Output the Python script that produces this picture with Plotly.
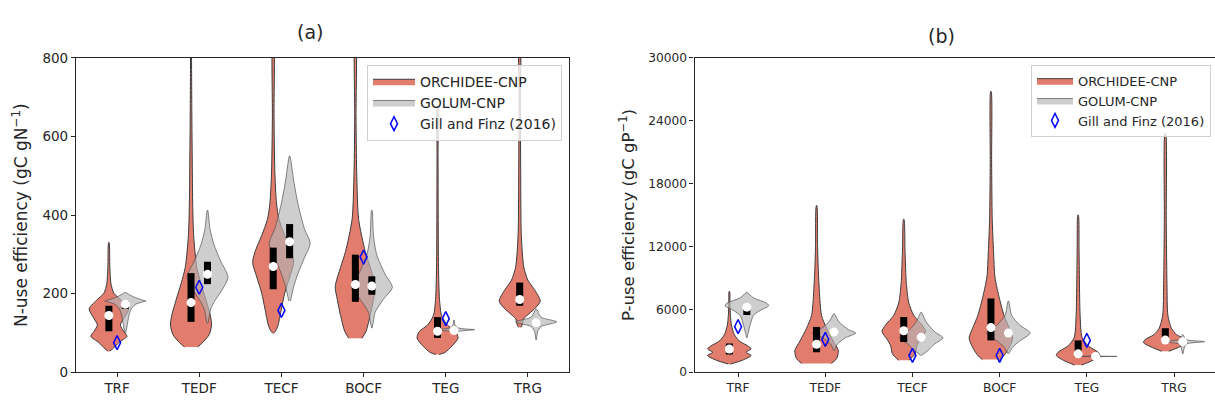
import plotly.graph_objects as go

categories = ["TRF", "TEDF", "TECF", "BOCF", "TEG", "TRG"]
a_yticks = [0, 200, 400, 600, 800]
b_yticks = [0, 6000, 12000, 18000, 24000, 30000]

# ---- Panel (a): N-use efficiency (gC gN-1) ----
# violin outlines: levels (data units) and half-widths (category units)
a_orc_levels = [
    [53, 62, 75, 91, 104, 120, 136, 161, 185, 201, 226, 267, 330],
    [64, 75, 95, 120, 144, 185, 226, 267, 348, 430, 511, 650, 800, 850],
    [99, 105, 120, 161, 201, 242, 279, 307, 348, 389, 430, 511, 650, 850],
    [86, 104, 144, 185, 218, 267, 307, 389, 511, 650, 850],
    [45, 50, 67, 87, 104, 120, 144, 185, 267, 400, 550, 678],
    [114, 120, 136, 161, 181, 210, 234, 267, 348, 511, 700, 850],
]
a_orc_widths = [
    [0.01, 0.06, 0.12, 0.22, 0.18, 0.14, 0.18, 0.24, 0.14, 0.06, 0.025, 0.012, 0.003],
    [0.08, 0.14, 0.22, 0.25, 0.235, 0.18, 0.12, 0.07, 0.032, 0.02, 0.016, 0.01, 0.006, 0.005],
    [0.005, 0.03, 0.06, 0.1, 0.14, 0.2, 0.25, 0.22, 0.14, 0.07, 0.04, 0.02, 0.01, 0.005],
    [0.08, 0.13, 0.18, 0.22, 0.245, 0.18, 0.12, 0.04, 0.016, 0.008, 0.005],
    [0.02, 0.09, 0.18, 0.25, 0.22, 0.12, 0.05, 0.024, 0.012, 0.008, 0.006, 0.003],
    [0.012, 0.03, 0.05, 0.18, 0.25, 0.18, 0.1, 0.05, 0.02, 0.012, 0.008, 0.006],
]
a_gol_levels = [
    [100, 115, 128, 145, 160, 172, 178, 181, 184, 190, 197, 203],
    [124, 128, 161, 185, 210, 242, 283, 324, 365, 412],
    [181, 200, 218, 250, 291, 328, 365, 430, 487, 550],
    [112, 130, 152, 185, 216, 250, 299, 348, 412],
    [95, 98, 104, 108, 112, 120, 132],
    [82, 104, 116, 128, 140, 161],
]
a_gol_widths = [
    [0.003, 0.02, 0.03, 0.045, 0.07, 0.12, 0.2, 0.25, 0.2, 0.12, 0.05, 0.005],
    [0.003, 0.01, 0.04, 0.1, 0.18, 0.25, 0.16, 0.08, 0.03, 0.003],
    [0.01, 0.03, 0.05, 0.1, 0.18, 0.25, 0.18, 0.1, 0.05, 0.003],
    [0.003, 0.02, 0.04, 0.14, 0.25, 0.16, 0.06, 0.02, 0.003],
    [0.003, 0.016, 0.06, 0.25, 0.06, 0.012, 0.003],
    [0.003, 0.02, 0.06, 0.25, 0.06, 0.003],
]
a_orc_q1 = [104, 128, 211, 179, 87, 169]
a_orc_med = [144, 177, 269, 223, 104, 185]
a_orc_q3 = [169, 252, 317, 299, 140, 228]
a_gol_q1 = [161, 224, 290, 197, 103, 121]
a_gol_med = [173, 249, 332, 219, 106, 126]
a_gol_q3 = [181, 281, 377, 244, 109, 130]
a_gill = [75, 216, 157, 293, 136, None]

# ---- Panel (b): P-use efficiency (gC gP-1) ----
b_orc_levels = [
    [765, 1131, 1590, 1896, 2202, 2508, 2966, 3578, 4495, 5413, 6500, 7700],
    [826, 1284, 2049, 2966, 4189, 5413, 6942, 10000, 12000, 15900],
    [1131, 1743, 2508, 3119, 3884, 4495, 5413, 6636, 8470, 11529, 14600],
    [1193, 1590, 2355, 3272, 4189, 5413, 6942, 9083, 11529, 14587, 20000, 26800],
    [673, 1131, 1590, 1896, 2508, 3272, 5413, 11529, 15000],
    [1988, 2355, 2813, 3119, 3578, 4189, 5413, 8470, 14587, 22800],
]
b_orc_widths = [
    [0.01, 0.15, 0.25, 0.19, 0.25, 0.21, 0.115, 0.057, 0.023, 0.012, 0.006, 0.003],
    [0.17, 0.23, 0.25, 0.19, 0.115, 0.057, 0.038, 0.019, 0.012, 0.003],
    [0.06, 0.13, 0.15, 0.19, 0.25, 0.21, 0.115, 0.057, 0.03, 0.015, 0.003],
    [0.1, 0.15, 0.21, 0.25, 0.21, 0.15, 0.1, 0.046, 0.03, 0.015, 0.008, 0.003],
    [0.04, 0.17, 0.25, 0.23, 0.115, 0.046, 0.023, 0.011, 0.003],
    [0.04, 0.15, 0.25, 0.23, 0.13, 0.07, 0.03, 0.019, 0.011, 0.004],
]
b_gol_levels = [
    [3272, 4495, 5413, 5871, 6330, 6575, 7095, 7614],
    [2049, 2660, 3272, 3730, 4036, 4801, 5566],
    [1590, 2049, 2660, 3272, 3884, 4801, 5719],
    [1743, 2355, 2966, 3730, 4495, 5413, 6789],
    [1350, 1450, 1498, 1550, 1650],
    [1743, 2660, 2905, 3119, 3578],
]
b_gol_widths = [
    [0.003, 0.038, 0.076, 0.15, 0.25, 0.23, 0.076, 0.003],
    [0.003, 0.038, 0.13, 0.25, 0.17, 0.057, 0.003],
    [0.003, 0.076, 0.15, 0.25, 0.15, 0.057, 0.003],
    [0.003, 0.046, 0.13, 0.25, 0.13, 0.038, 0.003],
    [0.003, 0.03, 0.245, 0.03, 0.003],
    [0.003, 0.038, 0.25, 0.038, 0.003],
]
b_orc_q1 = [1682, 1896, 2875, 3027, 1590, 3027]
b_orc_med = [2200, 2660, 3945, 4250, 1743, 3058]
b_orc_q3 = [2722, 4312, 5260, 7033, 3027, 4189]
b_gol_q1 = [5450, 3550, 3050, 3450, 1470, 2860]
b_gol_med = [6200, 3822, 3333, 3730, 1500, 2905]
b_gol_q3 = [6350, 4000, 3600, 4000, 1530, 2950]
b_gill = [4342, 3119, 1590, 1590, 3027, None]

ORC_FILL = "#e27c6d"
ORC_EDGE = "#3c3c3c"
GOL_FILL = "rgba(180,180,180,0.66)"
GOL_EDGE = "rgba(70,70,70,0.65)"
DODGE = 0.1

W, H = 1215, 407
fig = go.Figure()


def outline(center, levels, widths):
    xs = [center + w for w in widths] + [center - w for w in reversed(widths)]
    ys = list(levels) + list(reversed(levels))
    return xs, ys


def add_panel(xa, ya, legend, orc_lv, orc_w, gol_lv, gol_w,
              oq1, omed, oq3, gq1, gmed, gq3, gill):
    for lv, wd, off, fill, edge, name in [
        (orc_lv, orc_w, -DODGE, ORC_FILL, ORC_EDGE, "ORCHIDEE-CNP"),
        (gol_lv, gol_w, DODGE, GOL_FILL, GOL_EDGE, "GOLUM-CNP"),
    ]:
        for i in range(len(categories)):
            xs, ys = outline(i + off, lv[i], wd[i])
            fig.add_trace(go.Scatter(
                x=xs, y=ys, mode="lines", fill="toself", fillcolor=fill,
                line=dict(color=edge, width=1, shape="spline", smoothing=0.7),
                name=name, legend=legend, legendgroup=legend + name,
                showlegend=(i == 0), xaxis=xa, yaxis=ya, hoverinfo="skip"))
    for q1, q3, off in [(oq1, oq3, -DODGE), (gq1, gq3, DODGE)]:
        for i in range(len(categories)):
            fig.add_trace(go.Scatter(
                x=[i + off, i + off], y=[q1[i], q3[i]], mode="lines",
                line=dict(color="black", width=7), showlegend=False,
                xaxis=xa, yaxis=ya, hoverinfo="skip"))
    for med, off in [(omed, -DODGE), (gmed, DODGE)]:
        fig.add_trace(go.Scatter(
            x=[i + off for i in range(len(categories))], y=med, mode="markers",
            marker=dict(color="white", size=9, line=dict(width=0)),
            showlegend=False, xaxis=xa, yaxis=ya, hoverinfo="skip"))
    fig.add_trace(go.Scatter(
        x=list(range(len(categories))), y=gill, mode="markers",
        marker=dict(symbol="diamond-tall-open", color="#0000ff", size=10,
                    line=dict(width=1.5, color="#0000ff")),
        name="Gill and Finz (2016)", legend=legend, legendgroup=legend + "gill",
        xaxis=xa, yaxis=ya, hoverinfo="skip"))


add_panel("x", "y", "legend", a_orc_levels, a_orc_widths, a_gol_levels, a_gol_widths,
          a_orc_q1, a_orc_med, a_orc_q3, a_gol_q1, a_gol_med, a_gol_q3, a_gill)
add_panel("x2", "y2", "legend2", b_orc_levels, b_orc_widths, b_gol_levels, b_gol_widths,
          b_orc_q1, b_orc_med, b_orc_q3, b_gol_q1, b_gol_med, b_gol_q3, b_gill)

FONT = "DejaVu Sans"
ax_common = dict(showline=True, linecolor="#262626", linewidth=1.2, ticks="outside",
                 ticklen=4, tickcolor="#262626", showgrid=False, zeroline=False)

y_top, y_bot = 52, 379
ydom = [(H - y_bot) / H, (H - y_top) / H]

legend_common = dict(yanchor="top", y=(H - 59) / H, xanchor="right",
                     bgcolor="rgba(255,255,255,0.8)", bordercolor="#d0d0d0", borderwidth=1,
                     traceorder="grouped", tracegroupgap=0)

fig.update_layout(
    width=W, height=H, autosize=False,
    margin=dict(l=0, r=0, t=0, b=0),
    paper_bgcolor="white", plot_bgcolor="white",
    font=dict(family=FONT, color="#262626"),
    xaxis=dict(domain=[76 / W, 569 / W], range=[-0.5, 5.5], tickvals=list(range(6)),
               ticktext=categories, mirror=True, tickfont=dict(size=13.5), **ax_common),
    yaxis=dict(domain=ydom, range=[0, 800], tickvals=a_yticks, mirror=True,
               tickformat="d", tickfont=dict(size=13.5), **ax_common),
    xaxis2=dict(domain=[694.5 / W, 1.0], range=[-0.5, 5.47], tickvals=list(range(6)),
                ticktext=categories, mirror=True, anchor="y2",
                tickfont=dict(size=12.2), **ax_common),
    yaxis2=dict(domain=ydom, range=[0, 30000], tickvals=b_yticks, anchor="x2",
                tickformat="d", mirror=False, tickfont=dict(size=12.2), **ax_common),
    legend=dict(x=562 / W, font=dict(size=14, family=FONT), itemwidth=42, **legend_common),
    legend2=dict(x=1211 / W, font=dict(size=13, family=FONT), itemwidth=36, **legend_common),
    annotations=[
        dict(text="(a)", x=310 / W, y=(H - 25) / H, xref="paper", yref="paper",
             xanchor="center", yanchor="middle",
             showarrow=False, font=dict(size=19, family=FONT)),
        dict(text="(b)", x=941 / W, y=(H - 29) / H, xref="paper", yref="paper",
             xanchor="center", yanchor="middle",
             showarrow=False, font=dict(size=19, family=FONT)),
        dict(text="N-use efficiency (gC gN<sup>−1</sup>)", x=20 / W, y=(H - 215.5) / H,
             xref="paper", yref="paper", textangle=-90, showarrow=False,
             xanchor="center", yanchor="middle", font=dict(size=17, family=FONT)),
        dict(text="P-use efficiency (gC gP<sup>−1</sup>)", x=627 / W, y=(H - 215.5) / H,
             xref="paper", yref="paper", textangle=-90, showarrow=False,
             xanchor="center", yanchor="middle", font=dict(size=16.5, family=FONT)),
    ],
)

fig.write_html("out.html", config={"displayModeBar": False},
               post_script="document.body.style.margin='0';document.body.style.overflow='hidden';")
